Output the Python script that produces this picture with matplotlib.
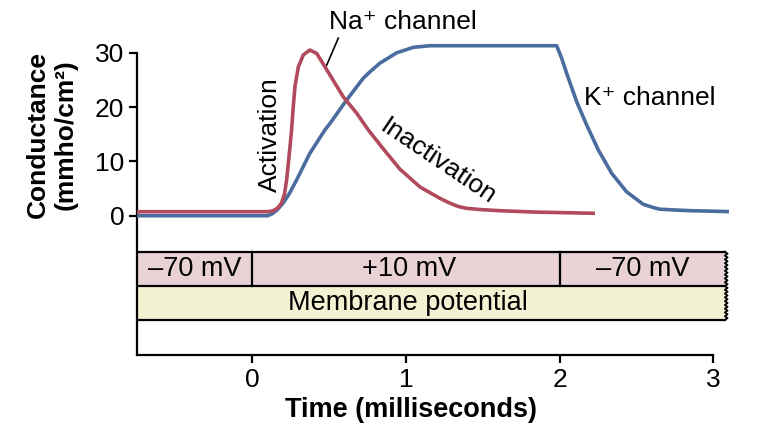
import matplotlib

matplotlib.use("Agg")
import matplotlib.pyplot as plt
import numpy as np

plt.rcParams["font.family"] = ["Liberation Sans", "DejaVu Sans"]

# Na+ conductance (time in ms, mmho/cm2)
na_t = [-0.75, 0.10, 0.135, 0.165, 0.19, 0.21, 0.224, 0.245, 0.256, 0.267,
        0.278, 0.30, 0.332, 0.375, 0.419, 0.452, 0.506, 0.592, 0.679, 0.755,
        0.853, 0.96, 1.091, 1.221, 1.287, 1.34, 1.395, 1.5, 1.615, 1.83,
        2.23]
na_g = [0.74, 0.74, 0.9, 1.4, 2.3, 4.0, 6.6, 12.5, 15.8, 20.1,
        23.8, 27.4, 29.6, 30.5, 29.9, 28.4, 25.9, 21.9, 18.9, 15.8,
        12.3, 8.6, 5.3, 3.2, 2.3, 1.7, 1.36, 1.1, 0.92, 0.68,
        0.44]

# K+ conductance
k_t = [-0.75, 0.10, 0.126, 0.16, 0.2, 0.24, 0.289, 0.375, 0.473, 0.506,
       0.614, 0.722, 0.766, 0.831, 0.94, 1.048, 1.156, 1.25, 1.981, 2.013,
       2.057, 2.111, 2.176, 2.252, 2.339, 2.436, 2.544, 2.61, 2.653, 2.75,
       2.848, 3.109]
k_g = [0.0, 0.0, 0.3, 1.0, 2.3, 4.0, 6.6, 11.5, 15.8, 17.0,
       21.3, 25.3, 26.5, 28.1, 30.0, 31.0, 31.3, 31.3, 31.3, 29.0,
       25.3, 21.0, 16.7, 12.1, 7.8, 4.4, 2.1, 1.5, 1.2, 1.05,
       0.93, 0.75]

# membrane potential steps
step_edges = [-0.75, 0.0, 2.0, 3.075]
step_labels = ["–70 mV", "+10 mV", "–70 mV"]
step_label_x = [-0.373, 1.02, 2.54]

x_ticks = [0, 1, 2, 3]
y_ticks = [0, 10, 20, 30]

red = "#b04a5c"
blue = "#4a6c9e"
pink = "#e8d2d5"
yellow = "#f3f3d3"

fig = plt.figure(figsize=(7.8, 4.4), dpi=100)
ax = fig.add_axes([0.1756, 0.1925, 0.7586, 0.7616])
ax.set_xlim(-0.75, 3.1)
ax.set_ylim(-25.7, 36)

ax.plot(k_t, k_g, color=blue, lw=2.6, solid_capstyle="butt",
        solid_joinstyle="round", zorder=3)
ax.plot(na_t, na_g, color=red, lw=2.6, solid_capstyle="butt",
        solid_joinstyle="round", zorder=4)

# bands below the curves
pink_top, mid, yellow_bot = -6.63, -12.95, -19.2
x_left, x_right = step_edges[0], step_edges[-1]


def band(y_top, y_bot, color):
    n = 9
    ys = np.linspace(y_top, y_bot, 2 * n + 1)
    xs = x_right + np.where(np.arange(len(ys)) % 2 == 0, 0.0, 0.018)
    px = [x_left] + list(xs) + [x_left]
    py = [y_top] + list(ys) + [y_bot]
    ax.fill(px, py, color=color, lw=0, zorder=1)
    ax.plot(xs, ys, color="black", lw=1.3, zorder=2, clip_on=False)


band(pink_top, mid, pink)
band(mid, yellow_bot, yellow)
for yy in (pink_top, mid, yellow_bot):
    ax.plot([x_left, x_right], [yy, yy], color="black", lw=1.6, zorder=2)
for xx in step_edges[1:-1]:
    ax.plot([xx, xx], [pink_top, mid], color="black", lw=1.6, zorder=2)

for lab, lx in zip(step_labels, step_label_x):
    ax.text(lx, (pink_top + mid) / 2, lab, ha="center", va="center",
            fontsize=19.5, zorder=5)
ax.text(1.01, (mid + yellow_bot) / 2, "Membrane potential", ha="center",
        va="center", fontsize=19.5, zorder=5)

# curve annotations
ax.text(0.977, 35.7, "Na⁺ channel", ha="center", va="center", fontsize=19,
        clip_on=False)
ax.plot([0.56, 0.484], [32.7, 27.7], color="black", lw=1.2)
ax.text(2.588, 21.7, "K⁺ channel", ha="center", va="center", fontsize=19)
ax.text(0.115, 15.0, "Activation", ha="center", va="center", fontsize=19,
        rotation=90)
ax.text(1.208, 9.9, "Inactivation", ha="center", va="center", fontsize=19,
        rotation=-34, rotation_mode="anchor")

# axes styling
for s in ("top", "right"):
    ax.spines[s].set_visible(False)
ax.spines["left"].set_bounds(-25.7, 30)
ax.spines["bottom"].set_bounds(-0.75, 3)
for s in ("left", "bottom"):
    ax.spines[s].set_linewidth(1.6)
ax.set_xticks(x_ticks)
ax.set_yticks(y_ticks)
ax.tick_params(axis="both", width=1.6, length=6, labelsize=19, pad=3)
ax.set_xlabel("Time (milliseconds)", fontsize=19.5, fontweight="bold",
              va="center")
ax.xaxis.set_label_coords(0.463, -0.163)
fig.text(0.066, 0.695, "Conductance\n(mmho/cm²)", rotation=90, ha="center",
         va="center", fontsize=19, fontweight="bold", multialignment="center",
         linespacing=1.2)

fig.savefig("out.png", dpi=100)
